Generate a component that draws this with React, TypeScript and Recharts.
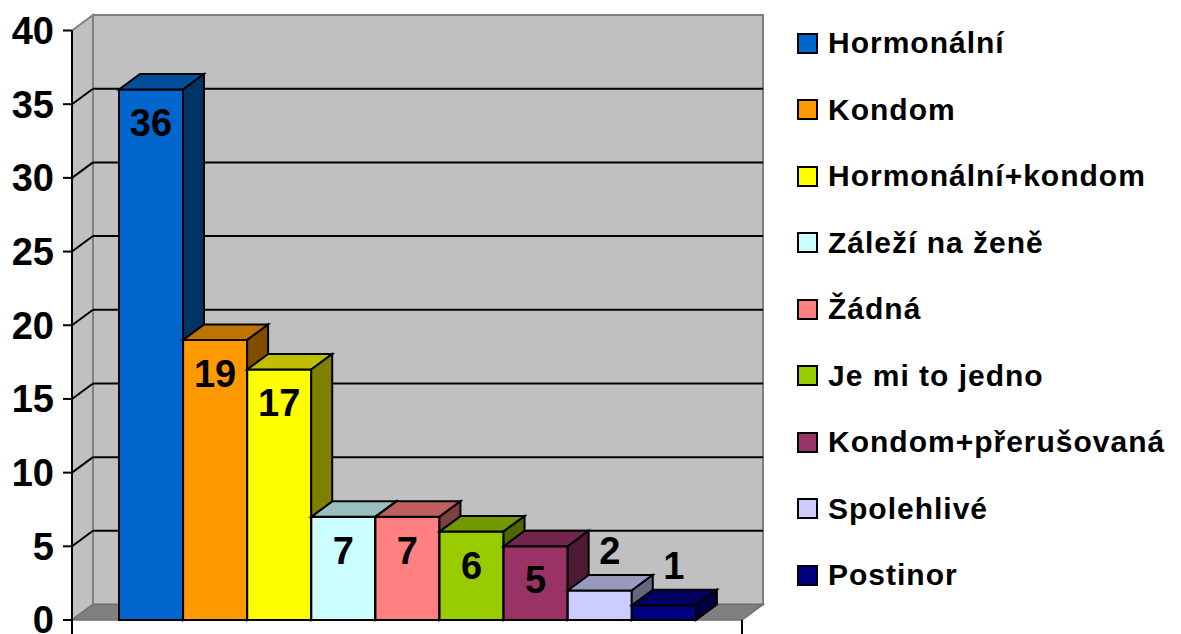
import React from "react";
import { Bar, BarChart, CartesianGrid, Cell, LabelList, XAxis, YAxis } from "recharts";

const CATEGORIES = [
  "Hormonální",
  "Kondom",
  "Hormonální+kondom",
  "Záleží na ženě",
  "Žádná",
  "Je mi to jedno",
  "Kondom+přerušovaná",
  "Spolehlivé",
  "Postinor",
];
const VALUES = [36, 19, 17, 7, 7, 6, 5, 2, 1];
const COLORS = ["#0066CC", "#FF9900", "#FFFF00", "#CCFFFF", "#FF8080", "#99CC00", "#993366", "#CCCCFF", "#000080"];
const Y_TICKS = [0, 5, 10, 15, 20, 25, 30, 35, 40];

const W = 1181;
const H = 634;
const MARGIN = { top: 30.5, right: 439, bottom: 14, left: 0 };
const AXIS_W = 72;
// 3D depth offset of the walls / bar tops
const DX = 21;
const DY = 15.5;
const FONT = '"Liberation Sans", Arial, sans-serif';

const data = CATEGORIES.map((name, i) => ({ name, value: VALUES[i] }));

function shade(hex: string, k: number) {
  const n = parseInt(hex.slice(1), 16);
  const r = Math.round(((n >> 16) & 255) * k);
  const g = Math.round(((n >> 8) & 255) * k);
  const b = Math.round((n & 255) * k);
  return `rgb(${r},${g},${b})`;
}

// side wall, back wall and floor
function Walls() {
  const left = AXIS_W;
  const right = W - MARGIN.right;
  const top = MARGIN.top;
  const bottom = H - MARGIN.bottom;
  return (
    <g>
      <polygon
        points={`${left},${top} ${left + DX},${top - DY} ${left + DX},${bottom - DY} ${left},${bottom}`}
        fill="#C0C0C0"
        stroke="#808080"
        strokeWidth={2}
      />
      <rect x={left + DX} y={top - DY} width={right - left} height={bottom - top} fill="#C0C0C0" stroke="#808080" strokeWidth={2} />
      <polygon
        points={`${left},${bottom} ${right},${bottom} ${right + DX},${bottom - DY} ${left + DX},${bottom - DY}`}
        fill="#808080"
        stroke="#707070"
        strokeWidth={1.5}
      />
      <line x1={right} y1={bottom} x2={right} y2={bottom + 14} stroke="#000" strokeWidth={2} />
      <line x1={left} y1={bottom} x2={left} y2={bottom + 14} stroke="#000" strokeWidth={2} />
    </g>
  );
}

// the walls go in with the first grid line so they stay under the lines and bars
function gridLine(props: any) {
  const { x1, x2, y1, index } = props;
  const onEdge = y1 <= MARGIN.top + 1 || y1 >= H - MARGIN.bottom - 1;
  return (
    <g key={`g-${index}`}>
      {index === 0 && <Walls />}
      {!onEdge && (
        <>
          <line x1={x1} y1={y1} x2={x1 + DX} y2={y1 - DY} stroke="#000" strokeWidth={2} />
          <line x1={x1 + DX} y1={y1 - DY} x2={x2 + DX} y2={y1 - DY} stroke="#000" strokeWidth={2} />
        </>
      )}
    </g>
  );
}

function Box3D(props: any) {
  const { x, y, width: w, height: h, index } = props;
  const c = COLORS[index];
  return (
    <g>
      <rect x={x} y={y} width={w} height={h} fill={c} stroke="#000" strokeWidth={2} />
      <polygon
        points={`${x},${y} ${x + w},${y} ${x + w + DX},${y - DY} ${x + DX},${y - DY}`}
        fill={shade(c, 0.75)}
        stroke="#000"
        strokeWidth={2}
      />
      <polygon
        points={`${x + w},${y} ${x + w + DX},${y - DY} ${x + w + DX},${y + h - DY} ${x + w},${y + h}`}
        fill={shade(c, 0.5)}
        stroke="#000"
        strokeWidth={2}
      />
    </g>
  );
}

function ValueLabel(props: any) {
  const { x, y, width, value } = props;
  const inside = value >= 5;
  const cx = inside ? x + width / 2 : x + width / 2 + 10;
  const cy = inside ? y + 34 : y - DY - 24;
  return (
    <text x={cx} y={cy} textAnchor="middle" dominantBaseline="central" fontFamily={FONT} fontWeight="bold" fontSize={38} fill="#000">
      {value}
    </text>
  );
}

function LegendBox() {
  return (
    <div style={{ position: "absolute", left: 797, top: 0 }}>
      {CATEGORIES.map((name, i) => (
        <div
          key={name}
          style={{ position: "absolute", top: 43 + i * 66.5 - 15, left: 0, height: 30, display: "flex", alignItems: "center", whiteSpace: "nowrap" }}
        >
          <span style={{ width: 17, height: 17, background: COLORS[i], border: "2px solid #000", display: "inline-block" }} />
          <span style={{ marginLeft: 10, fontFamily: FONT, fontWeight: "bold", fontSize: 30, letterSpacing: 1, color: "#000" }}>{name}</span>
        </div>
      ))}
    </div>
  );
}

export default function App() {
  return (
    <div style={{ position: "absolute", left: 0, top: 0, width: W, height: H, background: "#fff" }}>
      <BarChart width={W} height={H} data={data} margin={MARGIN} barCategoryGap={0}>
        <CartesianGrid vertical={false} horizontal={gridLine} stroke="#000" />
        <XAxis dataKey="name" height={0} tick={false} tickLine={false} axisLine={{ stroke: "#000", strokeWidth: 2 }} padding={{ left: 47, right: 46 }} />
        <YAxis
          width={AXIS_W}
          domain={[0, 40]}
          ticks={Y_TICKS}
          interval={0}
          tickSize={9}
          tickMargin={9}
          axisLine={{ stroke: "#000", strokeWidth: 2 }}
          tickLine={{ stroke: "#000", strokeWidth: 2 }}
          tick={{ fill: "#000", fontFamily: FONT, fontWeight: "bold", fontSize: 38 }}
        />
        <Bar dataKey="value" shape={Box3D} isAnimationActive={false}>
          {data.map((d, i) => (
            <Cell key={d.name} fill={COLORS[i]} />
          ))}
          <LabelList dataKey="value" content={ValueLabel} />
        </Bar>
      </BarChart>
      <LegendBox />
    </div>
  );
}
